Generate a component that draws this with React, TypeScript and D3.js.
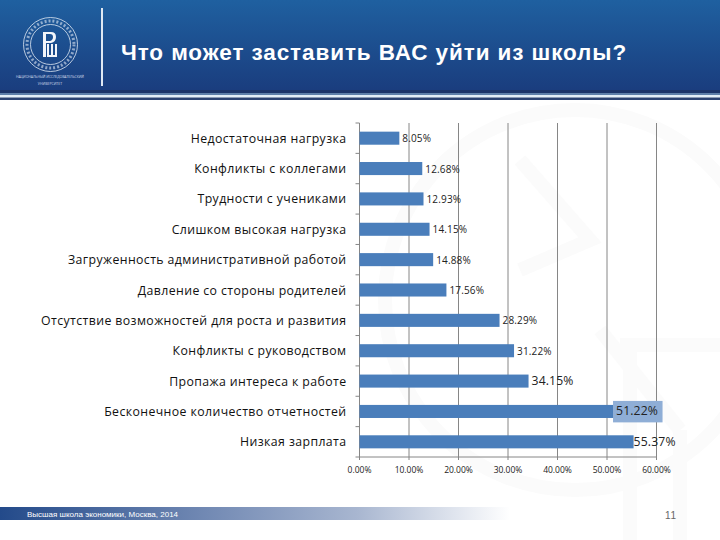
import React from 'react';
import * as d3 from 'd3';

const categories = [
  'Недостаточная нагрузка',
  'Конфликты с коллегами',
  'Трудности с учениками',
  'Слишком высокая нагрузка',
  'Загруженность административной работой',
  'Давление со стороны родителей',
  'Отсутствие возможностей для роста и развития',
  'Конфликты с руководством',
  'Пропажа интереса к работе',
  'Бесконечное количество отчетностей',
  'Низкая зарплата',
];
const values = [8.05, 12.68, 12.93, 14.15, 14.88, 17.56, 28.29, 31.22, 34.15, 51.22, 55.37];
const ticks = [0, 10, 20, 30, 40, 50, 60];

const WIDTH = 720;
const HEIGHT = 540;
const MARGIN = { top: 123, right: 63.5, bottom: 83, left: 359.5 };

// the last three labels are set larger, as in the slide
const labelSize = (v: number) => (v > 32 ? 12.2 : 10);

export default function App() {
  const xScale = d3
    .scaleLinear()
    .domain([0, 60])
    .range([MARGIN.left, WIDTH - MARGIN.right]);
  const yScale = d3
    .scaleBand()
    .domain(categories)
    .range([MARGIN.top, HEIGHT - MARGIN.bottom])
    .paddingInner(0.57)
    .paddingOuter(0.285);
  const outer = d3
    .scaleBand()
    .domain(categories)
    .range([MARGIN.top, HEIGHT - MARGIN.bottom]);
  const axisBottom = HEIGHT - MARGIN.bottom;
  const sans = '"Open Sans", "Noto Sans", sans-serif';
  const arial = "'Liberation Sans', Arial, sans-serif";

  return (
    <svg
      width={WIDTH}
      height={HEIGHT}
      style={{ position: 'absolute', left: 0, top: 0 }}
      fontFamily={sans}
    >
      <defs>
        <linearGradient id="head" x1="0" y1="0" x2="0" y2="1">
          <stop offset="0" stopColor="#1f60a0" />
          <stop offset="1" stopColor="#1a3d7e" />
        </linearGradient>
        <linearGradient id="foot" x1="0" y1="0" x2="1" y2="0">
          <stop offset="0" stopColor="#234a8a" />
          <stop offset="0.39" stopColor="#6f87b2" />
          <stop offset="0.7" stopColor="#a8b6d0" />
          <stop offset="1" stopColor="#ffffff" />
        </linearGradient>
      </defs>
      <rect width={WIDTH} height={HEIGHT} fill="#fff" />

      {/* faint watermark behind the chart */}
      <g fill="none" stroke="#fbfbfb" strokeWidth={14}>
        <circle cx={575} cy={300} r={190} />
        <path d="M520 160 L590 240 L520 270 M600 330 L680 430" />
        <path d="M620 345 H720 M630 345 V540 M680 430 V540" />
      </g>

      {/* header */}
      <rect width={WIDTH} height={90} fill="url(#head)" />
      <rect y={90} width={WIDTH} height={3} fill="#1c3468" />
      <rect y={93} width={WIDTH} height={2} fill="#5f7fa8" />
      <rect y={95} width={WIDTH} height={2.5} fill="#e4eef6" />
      <rect y={97.5} width={WIDTH} height={2.5} fill="#2c4270" />
      <rect x={101} y={8} width={2} height={78} fill="#dfe8f3" />

      {/* logo */}
      <g fill="none" stroke="#dfe8f3">
        <circle cx={50.5} cy={44.5} r={27} strokeWidth={0.8} />
        <circle cx={50.5} cy={44.5} r={20} strokeWidth={0.8} />
        <circle cx={50.5} cy={44.5} r={23.5} strokeWidth={3} strokeDasharray="2 2" opacity={0.6} />
      </g>
      <path
        fill="#f2f5fa"
        d="M43 32 H51 Q56 32 56 37 Q56 42 51 43 H46 V57 H43 Z M46 34 V41 H50 Q53 40 53 37 Q53 34 50 34 Z M47 44 H49 V55 H51 V44 H53 V55 H55 V44 H57 V57 H47 Z"
        fillRule="evenodd"
      />
      <text x={16} y={78} fontSize={3.5} fill="#cfd9e8" textLength={68}>
        НАЦИОНАЛЬНЫЙ ИССЛЕДОВАТЕЛЬСКИЙ
      </text>
      <text x={50} y={85} textAnchor="middle" fontSize={3.5} fill="#cfd9e8">
        УНИВЕРСИТЕТ
      </text>
      <text
        x={121}
        y={60}
        fontSize={22.5}
        fontWeight={700}
        fill="#fff"
        fontFamily={arial}
        letterSpacing={0.9}
      >
        Что может заставить ВАС уйти из школы?
      </text>

      {/* grid and axes */}
      {ticks.map((t) => (
        <g key={t}>
          <line x1={xScale(t)} x2={xScale(t)} y1={MARGIN.top} y2={axisBottom + 3} stroke="#868686" />
          <text x={xScale(t)} y={axisBottom + 16} textAnchor="middle" fontSize={8.5} fill="#222">
            {t.toFixed(2)}%
          </text>
        </g>
      ))}
      <line x1={MARGIN.left} x2={WIDTH - MARGIN.right} y1={axisBottom} y2={axisBottom} stroke="#868686" />
      {[...categories, ''].map((c, i) => {
        const y = MARGIN.top + i * outer.step();
        return <line key={i} x1={MARGIN.left - 4} x2={MARGIN.left} y1={y} y2={y} stroke="#868686" />;
      })}

      {/* bars */}
      {categories.map((c, i) => {
        const y = yScale(c) ?? 0;
        const h = yScale.bandwidth();
        const v = values[i];
        const lx = xScale(v) + (i === 10 ? 0 : 3);
        return (
          <g key={c}>
            {i === 9 && (
              <rect x={xScale(v)} y={y - 4} width={49.5} height={h + 8.4} fill="#8faed6" />
            )}
            <rect x={xScale(0)} y={y} width={xScale(v) - xScale(0)} height={h} fill="#4a7ebb" />
            <text
              x={MARGIN.left - 13}
              y={y + h / 2 + 4.5}
              textAnchor="end"
              fontSize={12.3}
              letterSpacing={0.4}
              fill="#111"
            >
              {c}
            </text>
            <text x={lx} y={y + h / 2 + 4} fontSize={labelSize(v)} letterSpacing={0.15} fill="#222">
              {v.toFixed(2)}%
            </text>
          </g>
        );
      })}

      {/* footer */}
      <rect x={0} y={507} width={510} height={13} fill="url(#foot)" />
      <text x={27} y={517} fontSize={8} fill="#fff" fontFamily={arial}>
        Высшая школа экономики, Москва, 2014
      </text>
      <text x={671} y={519} textAnchor="middle" fontSize={10} fill="#666" fontFamily={arial} letterSpacing={0.8}>
        11
      </text>
    </svg>
  );
}
